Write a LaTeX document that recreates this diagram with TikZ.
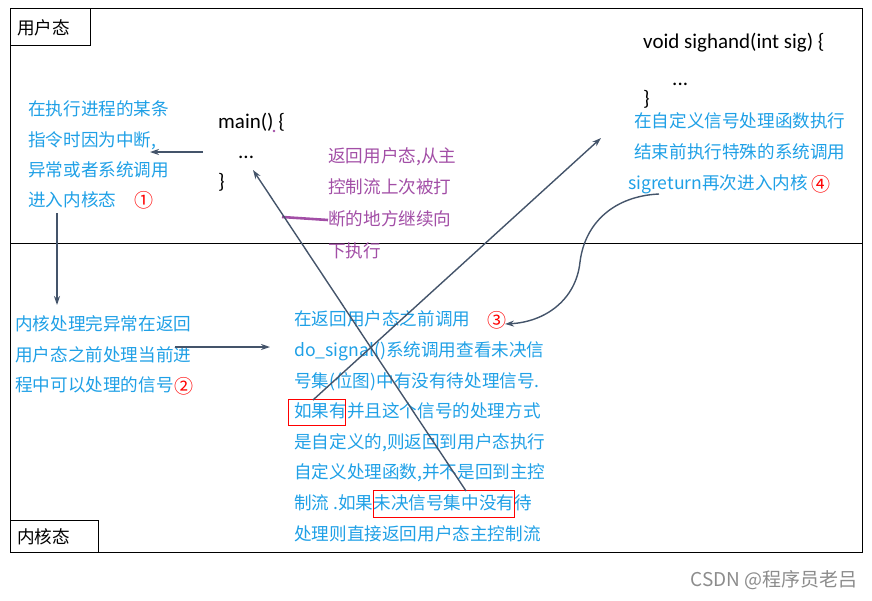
\documentclass[tikz,border=0pt]{standalone}
\usepackage{fontspec}
\setmainfont{Carlito}
\newfontfamily\cjk{Noto Sans CJK SC}
\usetikzlibrary{arrows.meta}

\definecolor{txtblue}{HTML}{1FA0E6}
\definecolor{txtpurple}{HTML}{A24EA6}
\definecolor{flowgray}{HTML}{44546A}

\tikzset{
  bluetxt/.style={anchor=west, inner sep=0pt, text=txtblue, text height=14pt, text depth=3pt,
    font=\cjk\fontsize{17.6}{20}\selectfont},
  purpletxt/.style={bluetxt, text=txtpurple},
  codetxt/.style={anchor=west, inner sep=0pt, font=\fontsize{21}{24}\selectfont},
  numtxt/.style={anchor=west, inner sep=0pt, text=red, font=\cjk\fontsize{19}{20}\selectfont},
  statetxt/.style={anchor=west, inner sep=0pt, font=\cjk\fontsize{17.6}{20}\selectfont},
  flow/.style={draw=flowgray, line width=1.4pt, -{Stealth[length=9pt,width=6pt]}},
  markbox/.style={draw=red, line width=0.9pt},
}

\begin{document}
\begin{tikzpicture}[x=1pt, y=-1pt]
        \useasboundingbox (0,0) rectangle (872,600);
        % frame and the two states
        \draw[line width=0.9pt] (10,8) rectangle (862,552);
        \draw[line width=0.9pt] (10,243) -- (862,243);
        \draw[line width=0.9pt] (10,8) rectangle (90,45);
        \node[statetxt] (userlbl) at (17,28) {用户态};
        \draw[line width=0.9pt] (10,520) rectangle (98,552);
        \node[statetxt] (kernlbl) at (17,537) {内核态};

        % step 1
        \node[bluetxt] (s1a) at (28,110) {在执行进程的某条};
        \node[bluetxt] (s1b) at (28,141) {指令时因为中断,};
        \node[bluetxt] (s1c) at (28,171) {异常或者系统调用};
        \node[bluetxt] (s1d) at (28,201) {进入内核态};
        \node[numtxt] (n1) at (134,200) {①};

        % main
        \node[codetxt] (main1) at (218,122) {main() \{};
        \node[codetxt] (main2) at (238,157) {...};
        \node[codetxt] (main3) at (218,182) {\}};
        \fill[txtpurple] (274,131) circle (1.4);

        % back to main flow
        \node[purpletxt] (ret1) at (328,157) {返回用户态,从主};
        \node[purpletxt] (ret2) at (328,188) {控制流上次被打};
        \node[purpletxt] (ret3) at (328,220) {断的地方继续向};
        \node[purpletxt] (ret4) at (328,252) {下执行};
        \draw[txtpurple, line width=2.6pt] (282,217) -- (ret3.west);

        % step 2
        \node[bluetxt] (s2a) at (15,325) {内核处理完异常在返回};
        \node[bluetxt] (s2b) at (15,356) {用户态之前处理当前进};
        \node[bluetxt] (s2c) at (15,386) {程中可以处理的信号};
        \node[numtxt] (n2) at (s2c.east) {②};

        % step 3
        \node[bluetxt] (s3a) at (294,320) {在返回用户态之前调用};
        \node[numtxt] (n3) at (487,320) {③};
        \node[bluetxt] (s3b) at (294,351) {do\_signal()系统调用查看未决信};
        \node[bluetxt] (s3c) at (294,382) {号集(位图)中有没有待处理信号.};
        \node[bluetxt] (s3d) at (294,412) {如果有并且这个信号的处理方式};
        \node[bluetxt] (s3e) at (294,443) {是自定义的,则返回到用户态执行};
        \node[bluetxt] (s3f) at (294,473) {自定义处理函数,并不是回到主控};
        \node[bluetxt] (s3g) at (294,504) {制流 .如果未决信号集中没有待};
        \node[bluetxt] (s3h) at (294,535) {处理则直接返回用户态主控制流};
        \draw[markbox] (288,399) rectangle (345,425);
        \draw[markbox] (373,490) rectangle (514,517);

        % sighand
        \node[codetxt] (sig1) at (643,43) {void sighand(int sig) \{};
        \node[codetxt] (sig2) at (672,84) {...};
        \node[codetxt] (sig3) at (643,99) {\}};

        % step 4
        \node[bluetxt] (s4a) at (634,122) {在自定义信号处理函数执行};
        \node[bluetxt] (s4b) at (634,153) {结束前执行特殊的系统调用};
        \node[bluetxt] (s4c) at (628,184) {sigreturn再次进入内核};
        \node[numtxt] (n4) at ([xshift=3pt]s4c.east) {④};

        % arrows
        \coordinate (m1) at (203,152);
        \coordinate (t1) at (150,152);
        \coordinate (d1) at (57,213);
        \coordinate (d2) at (57,305);
        \coordinate (k1) at (175,347);
        \coordinate (k2) at (270,347);
        \coordinate (up1) at (313,400);
        \coordinate (up2) at (601,138);
        \coordinate (bk1) at (466,491);
        \coordinate (bk2) at (253,170);
        \coordinate (sr1) at (659,194);
        \coordinate (sr2) at (580,262);
        \coordinate (sr3) at (505,324);
        \draw[flow] (m1) -- (t1);
        \draw[flow] (d1) -- (d2);
        \draw[flow] (k1) -- (k2);
        \draw[flow] (up1) -- (up2);
        \draw[flow] (bk1) -- (bk2);
        \draw[flow] (sr1) .. controls (615,196) and (585,222) .. (sr2)
                          .. controls (576,300) and (545,322) .. (sr3);

        \node[anchor=east, inner sep=0pt, text=black!45, font=\cjk\fontsize{19}{22}\selectfont] (mark) at (858,580) {CSDN @程序员老吕};

    \end{tikzpicture}
\end{document}
